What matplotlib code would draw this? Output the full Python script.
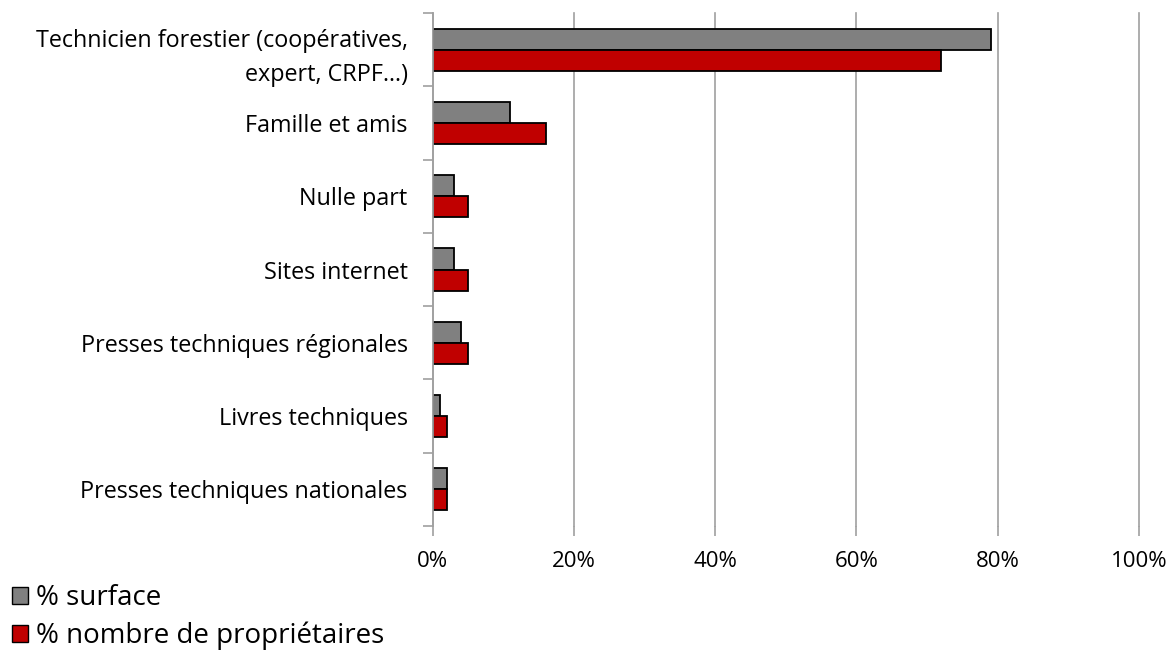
import numpy as np
import matplotlib.pyplot as plt
from matplotlib.patches import Patch

categories = ['Technicien forestier (coopératives,\nexpert, CRPF…)', 'Famille et amis', 'Nulle part',
              'Sites internet', 'Presses techniques régionales', 'Livres techniques',
              'Presses techniques nationales']
surface = [79, 11, 3, 3, 4, 1, 2]
proprietaires = [72, 16, 5, 5, 5, 2, 2]
series_names = ['% surface', '% nombre de propriétaires']
colors = ['#808080', '#c00000']

plt.rcParams['font.family'] = ['Open Sans', 'DejaVu Sans']

fig = plt.figure(figsize=(11.72, 6.53), dpi=100)
ax = fig.add_axes([0.3692, 0.1945, 0.6026, 0.7855])

n = len(categories)
pos = np.arange(n)[::-1] + 0.5
h = 0.287
ax.barh(pos + h / 2, surface, height=h, color=colors[0], edgecolor='black', linewidth=1.3)
ax.barh(pos - h / 2, proprietaires, height=h, color=colors[1], edgecolor='black', linewidth=1.3)

ax.set_xlim(0, 100)
ax.set_ylim(0, n)
ax.set_xticks(np.arange(0, 101, 20))
ax.set_xticklabels([f'{v}%' for v in range(0, 101, 20)], fontsize=16)
ax.set_yticks(np.arange(0, n + 1))
ax.set_yticklabels([])
ax.set_yticks(pos, minor=True)
ax.set_yticklabels(categories, minor=True, fontsize=16.8, ha='right', linespacing=1.6)
ax.tick_params(axis='y', which='minor', length=0, pad=18)
ax.tick_params(axis='y', which='major', length=7, color='#a0a0a0', width=1.2)
ax.tick_params(axis='x', length=7, color='#a0a0a0', width=1.2, pad=11)
ax.grid(axis='x', color='#a0a0a0', linewidth=1.2)
for line in ax.get_xgridlines():
    line.set_clip_on(False)
ax.set_axisbelow(True)
for s in ['top', 'right', 'bottom']:
    ax.spines[s].set_visible(False)
ax.spines['left'].set_color('#a0a0a0')
ax.spines['left'].set_linewidth(1.2)

handles = [Patch(facecolor=c, edgecolor='black', linewidth=1) for c in colors]
fig.legend(handles, series_names, loc='upper left', bbox_to_anchor=(-0.0085, 0.139), frameon=False,
           fontsize=20, handlelength=0.55, handleheight=0.55, handletextpad=0.3, labelspacing=0.33,
           borderpad=0.3)

fig.savefig('out.png', dpi=100)
